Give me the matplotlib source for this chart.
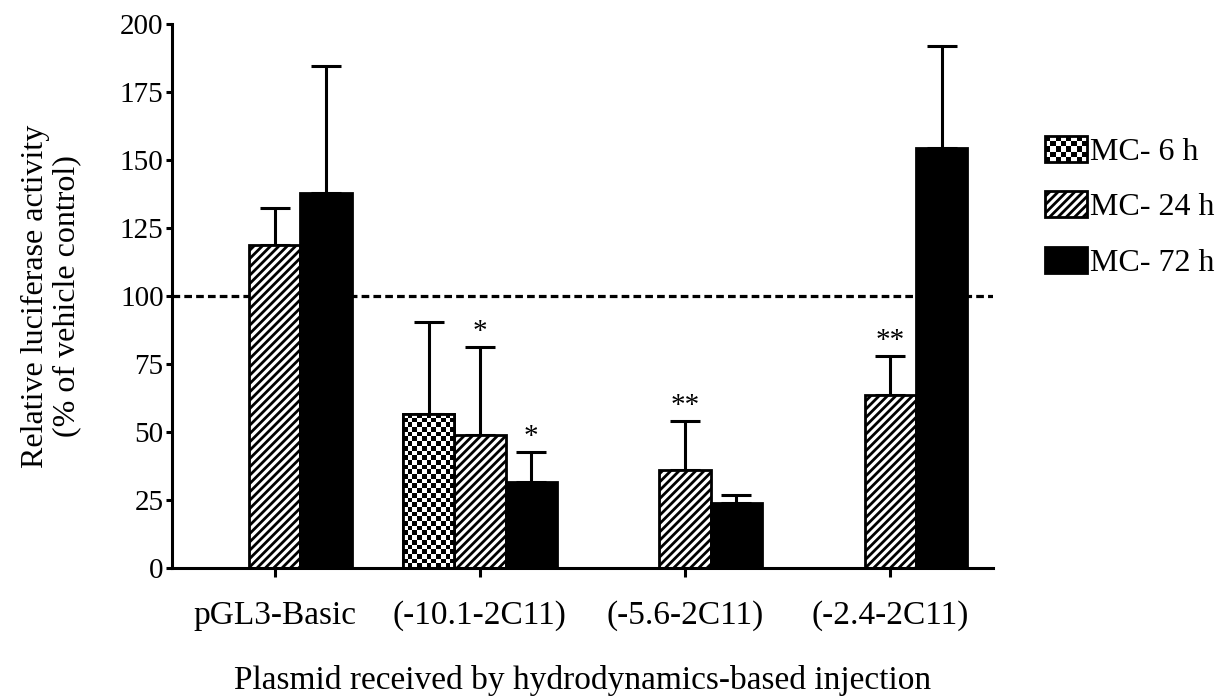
import numpy as np
import matplotlib
matplotlib.use("Agg")
import matplotlib.pyplot as plt
from matplotlib.patches import Patch, Rectangle
from matplotlib.legend_handler import HandlerBase

plt.rcParams["font.family"] = ["Liberation Serif", "DejaVu Serif"]
plt.rcParams["hatch.linewidth"] = 2.0
plt.rcParams["hatch.color"] = "black"

# data (upper SEM only)
groups = ["pGL3-Basic", "(-10.1-2C11)", "(-5.6-2C11)", "(-2.4-2C11)"]
series = ["MC- 6 h", "MC- 24 h", "MC- 72 h"]
mc6 = [np.nan, 56.7, np.nan, np.nan]
mc6_err = [np.nan, 33.6, np.nan, np.nan]
mc24 = [118.8, 48.8, 36.0, 63.6]
mc24_err = [13.6, 32.5, 17.9, 14.2]
mc72 = [137.9, 31.5, 23.9, 154.3]
mc72_err = [46.7, 11.0, 2.8, 37.5]
# significance marks: (group index, series index, label)
stars = [(1, 1, "*"), (1, 2, "*"), (2, 1, "**"), (3, 1, "**")]
ref_level = 100

fig = plt.figure(figsize=(12.25, 7.0), dpi=100, facecolor="white")
ax = fig.add_axes([172 / 1225, 132 / 700, 821 / 1225, 544 / 700])
ax.set_xlim(-0.5, len(groups) - 0.5)
ax.set_ylim(0, 200)

x = np.arange(len(groups))
width = 0.25
offsets = [-width, 0, width]
values = [mc6, mc24, mc72]
errors = [mc6_err, mc24_err, mc72_err]

ax.axhline(ref_level, color="black", lw=2.3, ls=(0, (2.4, 1.3)), zorder=1)

for k, (vals, errs) in enumerate(zip(values, errors)):
    vals = np.asarray(vals, float)
    errs = np.asarray(errs, float)
    ok = np.isfinite(vals)
    xs = x[ok] + offsets[k]
    ax.errorbar(xs, vals[ok], yerr=[np.zeros(ok.sum()), errs[ok]], fmt="none",
                ecolor="black", elinewidth=2.2, capsize=10.5, capthick=2.2, zorder=1.5)
    if k == 0:
        bars = ax.bar(xs, vals[ok], width, facecolor="white", edgecolor="black",
                      linewidth=2, zorder=2)
        # checkerboard fill clipped to each bar
        px_x = ax.transData.transform((1, 0))[0] - ax.transData.transform((0, 0))[0]
        px_y = ax.transData.transform((0, 1))[1] - ax.transData.transform((0, 0))[1]
        for b in bars:
            nx = 11
            sq = b.get_width() * px_x / nx
            ny = max(1, int(round(b.get_height() * px_y / sq)))
            board = np.indices((ny, nx)).sum(axis=0) % 2
            im = ax.imshow(board, cmap="Greys", vmin=0, vmax=1, origin="lower",
                           extent=(b.get_x(), b.get_x() + b.get_width(), 0, b.get_height()),
                           aspect="auto", interpolation="nearest", zorder=2.1)
            im.set_clip_path(b)
        ax.bar(xs, vals[ok], width, fill=False, edgecolor="black", linewidth=2, zorder=2.2)
    elif k == 1:
        ax.bar(xs, vals[ok], width, facecolor="white", edgecolor="black",
               hatch="////", linewidth=2, zorder=2)
    else:
        ax.bar(xs, vals[ok], width, facecolor="black", edgecolor="black",
               linewidth=2, zorder=2)

for g, s, label in stars:
    top = values[s][g] + errors[s][g]
    ax.annotate(label, (x[g] + offsets[s], top), xytext=(0, 6), textcoords="offset points",
                ha="center", va="baseline", fontsize=21)

ax.set_xlim(-0.5, len(groups) - 0.5)
ax.set_ylim(0, 200)
ax.set_yticks(np.arange(0, 201, 25))
ax.set_xticks(x)
ax.set_xticklabels(groups, fontsize=24)
ax.tick_params(axis="y", labelsize=21, width=2.2, length=4.5, pad=1.5)
ax.tick_params(axis="x", width=2.2, length=6.5, pad=17)
for side in ["top", "right"]:
    ax.spines[side].set_visible(False)
for side in ["left", "bottom"]:
    ax.spines[side].set_linewidth(2.2)

ax.set_ylabel("Relative luciferase activity\n(% of vehicle control)", fontsize=23,
              linespacing=1.1)
ax.yaxis.set_label_coords(-0.11, 0.5)
ax.set_xlabel("Plasmid received by hydrodynamics-based injection", fontsize=24)
ax.xaxis.set_label_coords(0.5, -0.178)


class CheckerHandler(HandlerBase):
    def create_artists(self, legend, orig_handle, xdescent, ydescent, width, height,
                       fontsize, trans):
        x0, y0 = -xdescent, -ydescent
        arts = [Rectangle((x0, y0), width, height, facecolor="white", edgecolor="black",
                          lw=2, transform=trans)]
        nx, ny = 8, 5
        dx, dy = width / nx, height / ny
        for i in range(nx):
            for j in range(ny):
                if (i + j) % 2 == 0:
                    arts.append(Rectangle((x0 + i * dx, y0 + j * dy), dx, dy,
                                          facecolor="black", lw=0, transform=trans))
        return arts


h6 = Patch(facecolor="white", edgecolor="black")
h24 = Patch(facecolor="white", edgecolor="black", hatch="////", lw=2)
h72 = Patch(facecolor="black", edgecolor="black", lw=2)
fig.legend([h6, h24, h72], series, loc="upper left", bbox_to_anchor=(1045 / 1225, 1 - 136 / 700),
           frameon=False, fontsize=23, handlelength=1.32, handleheight=0.88,
           handletextpad=0.08, labelspacing=0.76, borderpad=0, borderaxespad=0,
           handler_map={h6: CheckerHandler()})

fig.savefig("out.png", dpi=100, facecolor="white")
